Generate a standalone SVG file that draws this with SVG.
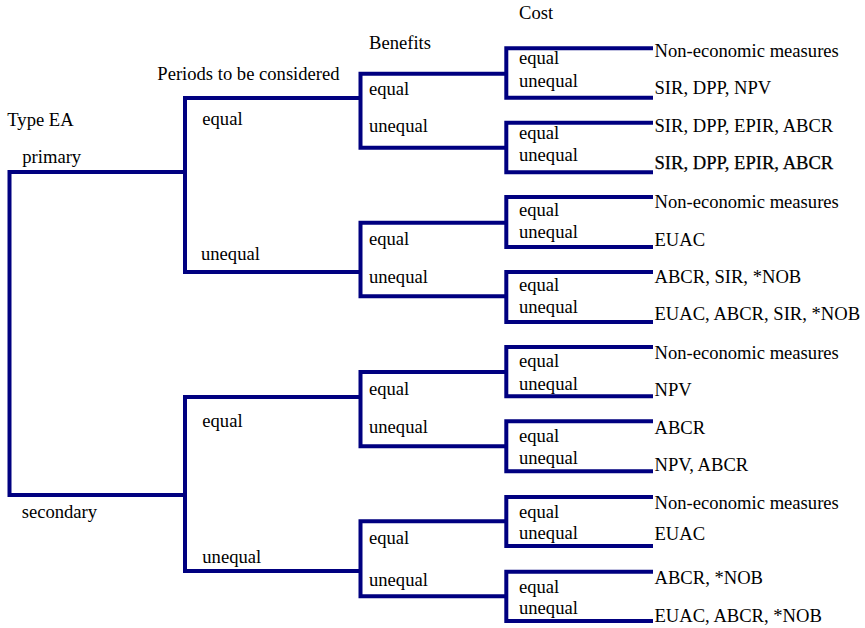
<svg xmlns="http://www.w3.org/2000/svg" width="865" height="628" viewBox="0 0 865 628">
  <style>
    text { font-family: "Liberation Serif", "Times New Roman", serif; font-size: 18.6px; fill: #000; }
    .br { fill: none; stroke: #000080; stroke-width: 4; stroke-linejoin: miter; stroke-linecap: butt; }
    .heavy { stroke: #000; stroke-width: 0.25; }
  </style>
  <rect width="865" height="628" fill="#fff"/>

  <!-- bracket connectors of the decision tree -->
  <g id="connectors">
    <!-- type of EA -->
    <path class="br" d="M185 172 H9.5 V495 H185"/>
    <!-- periods -->
    <path class="br" d="M361 98 H185 V272 H361"/>
    <path class="br" d="M361 397 H185 V571 H361"/>
    <!-- benefits -->
    <path class="br" d="M506 73.7 H360.5 V147.7 H506"/>
    <path class="br" d="M506 222.7 H360.5 V296.3 H506"/>
    <path class="br" d="M506 372 H360.5 V446.3 H506"/>
    <path class="br" d="M506 521.3 H360.5 V596.3 H506"/>
    <!-- cost -->
    <path class="br" d="M653 48.3 H506.3 V97.7 H653"/>
    <path class="br" d="M653 122.7 H506.3 V172.3 H653"/>
    <path class="br" d="M653 197 H506.3 V247 H653"/>
    <path class="br" d="M653 272 H506.3 V322 H653"/>
    <path class="br" d="M653 347 H506.3 V396.3 H653"/>
    <path class="br" d="M653 421.3 H506.3 V471.3 H653"/>
    <path class="br" d="M653 497 H506.3 V546 H653"/>
    <path class="br" d="M653 571.7 H506.3 V621 H653"/>
  </g>

  <!-- column headings -->
  <g id="headings">
    <text x="7.3" y="126">Type EA</text>
    <text x="157.3" y="80">Periods to be considered</text>
    <text x="369" y="49.3">Benefits</text>
    <text x="519" y="19.3">Cost</text>
  </g>

  <!-- type of EA -->
  <g id="type-primary"><text x="22.3" y="163">primary</text></g>
  <g id="type-secondary"><text x="21.7" y="517.7">secondary</text></g>

  <!-- periods to be considered -->
  <g id="period-p-equal"><text x="202.3" y="124.5">equal</text></g>
  <g id="period-p-unequal"><text x="201" y="260">unequal</text></g>
  <g id="period-s-equal"><text x="202.3" y="426.7">equal</text></g>
  <g id="period-s-unequal"><text x="202.3" y="563.3">unequal</text></g>

  <!-- benefits -->
  <g id="benefit-1"><text x="369" y="95">equal</text><text x="369" y="132.3">unequal</text></g>
  <g id="benefit-2"><text x="369" y="245">equal</text><text x="369" y="282.7">unequal</text></g>
  <g id="benefit-3"><text x="369" y="395">equal</text><text x="369" y="433.3">unequal</text></g>
  <g id="benefit-4"><text x="369" y="544.3">equal</text><text x="369" y="586">unequal</text></g>

  <!-- cost -->
  <g id="cost-1"><text x="519" y="64.3">equal</text><text x="519" y="86.7">unequal</text></g>
  <g id="cost-2"><text x="519" y="139.3">equal</text><text x="519" y="161">unequal</text></g>
  <g id="cost-3"><text x="519" y="216">equal</text><text x="519" y="237.7">unequal</text></g>
  <g id="cost-4"><text x="519" y="291">equal</text><text x="519" y="313.3">unequal</text></g>
  <g id="cost-5"><text x="519" y="366.7">equal</text><text x="519" y="390">unequal</text></g>
  <g id="cost-6"><text x="519" y="442.3">equal</text><text x="519" y="464">unequal</text></g>
  <g id="cost-7"><text x="519" y="517.7">equal</text><text x="519" y="539.3">unequal</text></g>
  <g id="cost-8"><text x="519" y="592.7">equal</text><text x="519" y="614">unequal</text></g>

  <!-- recommended measures -->
  <g id="measure-1"><text x="654.5" y="57.3">Non-economic measures</text></g>
  <g id="measure-2"><text x="654.5" y="94.3">SIR, DPP, NPV</text></g>
  <g id="measure-3"><text x="654.5" y="131.7">SIR, DPP, EPIR, ABCR</text></g>
  <g id="measure-4"><text class="heavy" x="654.5" y="169.3">SIR, DPP, EPIR, ABCR</text></g>
  <g id="measure-5"><text x="654.5" y="207.7">Non-economic measures</text></g>
  <g id="measure-6"><text x="654.5" y="245.7">EUAC</text></g>
  <g id="measure-7"><text x="654.5" y="282.7">ABCR, SIR, *NOB</text></g>
  <g id="measure-8"><text x="654.5" y="320">EUAC, ABCR, SIR, *NOB</text></g>
  <g id="measure-9"><text x="654.5" y="359.3">Non-economic measures</text></g>
  <g id="measure-10"><text x="654.5" y="396">NPV</text></g>
  <g id="measure-11"><text x="654.5" y="434">ABCR</text></g>
  <g id="measure-12"><text x="654.5" y="470.7">NPV, ABCR</text></g>
  <g id="measure-13"><text x="654.5" y="509.3">Non-economic measures</text></g>
  <g id="measure-14"><text x="654.5" y="540">EUAC</text></g>
  <g id="measure-15"><text x="654.5" y="584">ABCR, *NOB</text></g>
  <g id="measure-16"><text x="654.5" y="621.7">EUAC, ABCR, *NOB</text></g>
</svg>
